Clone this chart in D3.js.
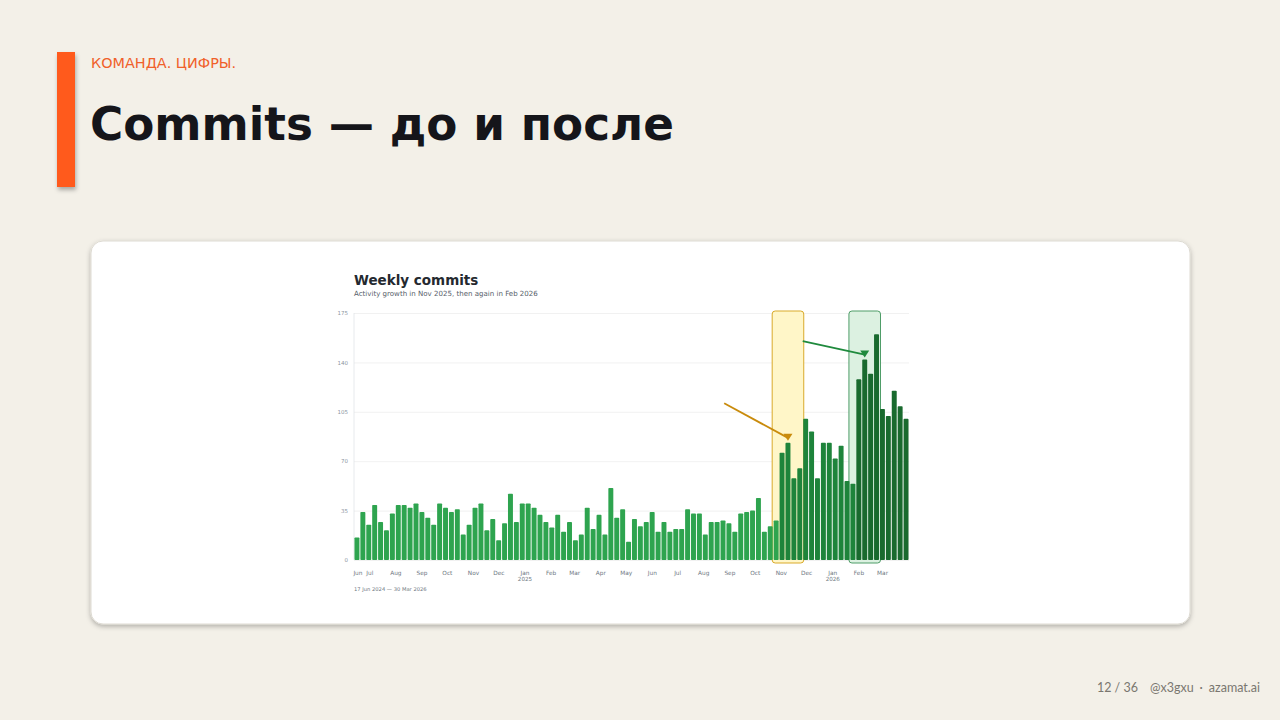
<!DOCTYPE html>
<html>
<head>
<meta charset="utf-8">
<script src="https://cdn.jsdelivr.net/npm/d3@7"></script>
<style>
  html, body { margin: 0; padding: 0; background: #f3f0e8; }
  svg { display: block; }
</style>
</head>
<body>
<svg id="slide" width="1280" height="720"></svg>
<script>
// ---------- data ----------
const startWeek = "2024-06-17";
const commits = [16,34,25,39,27,21,33,39,39,37,40,34,30,25,40,37,34,36,18,25,
  37,40,21,29,14,26,47,27,40,40,37,32,27,23,32,20,27,14,18,37,
  22,32,18,51,30,36,13,29,24,27,34,20,27,20,22,22,36,33,33,18,
  27,27,28,26,20,33,34,35,44,20,24,28,76,83,58,65,100,91,58,83,
  83,72,81,56,54,128,142,132,160,107,102,120,109,100];
const yTicks = [0, 35, 70, 105, 140, 175];
const monthTicks = ["2024-06-17","2024-07-01","2024-08-01","2024-09-01","2024-10-01","2024-11-01","2024-12-01",
  "2025-01-01","2025-02-01","2025-03-01","2025-04-01","2025-05-01","2025-06-01","2025-07-01","2025-08-01",
  "2025-09-01","2025-10-01","2025-11-01","2025-12-01","2026-01-01","2026-02-01","2026-03-01"];
const monthLabels = ["Jun","Jul","Aug","Sep","Oct","Nov","Dec","Jan","Feb","Mar","Apr","May","Jun","Jul","Aug",
  "Sep","Oct","Nov","Dec","Jan","Feb","Mar"];
const yearLabels = {"2025-01-01": "2025", "2026-01-01": "2026"};
const phaseStarts = ["2025-11-01", "2026-02-01"];
const highlights = [
  {from: 71, to: 75, kind: "nov"},
  {from: 84, to: 88, kind: "feb"}
];
const arrows = [
  {kind: "nov", fromIdx: 62.2, fromVal: 111, toIdx: 73, toVal: 83},
  {kind: "feb", fromIdx: 75.5, fromVal: 155, toIdx: 86, toVal: 142}
];

// ---------- styles ----------
const C = {
  bg: "#f3f0e8", accent: "#ff5a1f", title: "#15151a",
  bars: ["#2ea44f", "#1e843b", "#196a2e"],
  hl: { nov: {fill: "#fff6c8", stroke: "#d9aa2a", arrow: "#c98b0c"},
        feb: {fill: "#dcf1e1", stroke: "#4f9d68", arrow: "#1f8a3d"} }
};

const svg = d3.select("#slide");
const defs = svg.append("defs");
const sh = defs.append("filter").attr("id", "shadow").attr("x", "-10%").attr("y", "-10%").attr("width", "120%").attr("height", "130%");
sh.append("feDropShadow").attr("dx", 0).attr("dy", 2).attr("stdDeviation", 2.5).attr("flood-color", "#000").attr("flood-opacity", 0.28);
const sh2 = defs.append("filter").attr("id", "shadow2").attr("x", "-50%").attr("y", "-10%").attr("width", "200%").attr("height", "130%");
sh2.append("feDropShadow").attr("dx", 1).attr("dy", 3).attr("stdDeviation", 2).attr("flood-color", "#000").attr("flood-opacity", 0.3);

svg.append("rect").attr("width", 1280).attr("height", 720).attr("fill", C.bg);

// header
svg.append("rect").attr("x", 57).attr("y", 52).attr("width", 18).attr("height", 135)
  .attr("fill", C.accent).attr("filter", "url(#shadow2)");
svg.append("text").attr("x", 91).attr("y", 67.5).text("КОМАНДА. ЦИФРЫ.")
  .attr("font-family", "DejaVu Sans").attr("font-size", 14.4).attr("fill", "#f0602a");
svg.append("text").attr("x", 90).attr("y", 140).text("Commits — до и после")
  .attr("font-family", "DejaVu Sans").attr("font-weight", "bold").attr("font-size", 45.3).attr("fill", C.title);

// footer
const foot = svg.append("text").attr("x", 1260).attr("y", 692).attr("text-anchor", "end")
  .attr("font-family", "Lato").attr("font-size", 12.5).attr("fill", "#7a7770");
foot.append("tspan").text("12 / 36");
foot.append("tspan").attr("dx", 12).text("@x3gxu");
foot.append("tspan").attr("dx", 6).text("·");
foot.append("tspan").attr("dx", 6).text("azamat.ai");

// card
svg.append("rect").attr("x", 91).attr("y", 241).attr("width", 1099).attr("height", 383).attr("rx", 12)
  .attr("fill", "#fff").attr("stroke", "#dedbd3").attr("stroke-width", 1).attr("filter", "url(#shadow)");

// ---------- chart ----------
const parse = d3.utcParse("%Y-%m-%d");
const start = parse(startWeek);
const weeks = commits.map((v, i) => ({date: d3.utcDay.offset(start, 7 * i), value: v, i}));
const L = 354, R = 909, T = 313, B = 560;

const x = d3.scaleBand().domain(weeks.map(d => d.i)).range([L, R]).paddingInner(0.16).paddingOuter(0.08);
const xt = d3.scaleUtc()
  .domain([d3.utcHour.offset(start, -84), d3.utcHour.offset(weeks[weeks.length - 1].date, 84)])
  .range([L, R]);
const y = d3.scaleLinear().domain([0, 175]).range([B, T]);
const xi = idx => x(0) + x.bandwidth() / 2 + idx * x.step();

const g = svg.append("g");
g.append("text").attr("x", 354).attr("y", 285).text("Weekly commits")
  .attr("font-family", "DejaVu Sans").attr("font-weight", "bold").attr("font-size", 13.5).attr("fill", "#24292f");
g.append("text").attr("x", 354).attr("y", 296).text("Activity growth in Nov 2025, then again in Feb 2026")
  .attr("font-family", "DejaVu Sans").attr("font-size", 7.05).attr("fill", "#57606a");

// y grid + axis
const yAxis = g.append("g").attr("transform", `translate(${L},0)`)
  .call(d3.axisLeft(y).tickValues(yTicks).tickSize(-(R - L)).tickPadding(6));
yAxis.select(".domain").remove();
yAxis.selectAll(".tick line").attr("stroke", "#eeeeee").attr("stroke-width", 0.8);
yAxis.selectAll(".tick text").attr("font-family", "DejaVu Sans").attr("font-size", 5.5).attr("fill", "#8c959f");
g.append("line").attr("x1", L).attr("x2", L).attr("y1", T).attr("y2", B).attr("stroke", "#e1e4e8").attr("stroke-width", 0.8);

// highlight boxes (behind bars)
g.selectAll(".hl").data(highlights).join("rect")
  .attr("x", d => x(d.from) - 1.5)
  .attr("width", d => x(d.to) + x.bandwidth() - x(d.from) + 3)
  .attr("y", y(175) - 2).attr("height", y(0) - y(175) + 5).attr("rx", 3)
  .attr("fill", d => C.hl[d.kind].fill).attr("stroke", d => C.hl[d.kind].stroke).attr("stroke-width", 1);

// bars
const phases = phaseStarts.map(parse);
const barColor = d => C.bars[d3.bisectRight(phases, d.date)];
g.selectAll(".bar").data(weeks).join("rect")
  .attr("x", d => x(d.i)).attr("width", x.bandwidth())
  .attr("y", d => y(d.value)).attr("height", d => y(0) - y(d.value))
  .attr("rx", 0.8).attr("fill", barColor);

// arrows
arrows.forEach(a => {
  const col = C.hl[a.kind].arrow;
  const x1 = xi(a.fromIdx), y1 = y(a.fromVal);
  const x2 = xi(a.toIdx), y2 = y(a.toVal) - 2;
  g.append("line").attr("x1", x1).attr("y1", y1).attr("x2", x2).attr("y2", y2 - 3)
    .attr("stroke", col).attr("stroke-width", 1.8);
  g.append("path").attr("d", `M${x2 - 4.5},${y2 - 7}L${x2 + 4.5},${y2 - 7}L${x2},${y2}Z`).attr("fill", col);
});

// x axis labels
const mt = monthTicks.map((m, k) => ({date: parse(m), label: monthLabels[k], key: m}));
g.selectAll(".mlab").data(mt).join("text")
  .attr("x", d => Math.max(xt(d.date) + 1, L + 1)).attr("y", 574.5).attr("text-anchor", "middle")
  .attr("font-family", "DejaVu Sans").attr("font-size", 5.8).attr("fill", "#6e7781").text(d => d.label);
g.selectAll(".ylab").data(mt.filter(d => yearLabels[d.key])).join("text")
  .attr("x", d => xt(d.date) + 1).attr("y", 581).attr("text-anchor", "middle")
  .attr("font-family", "DejaVu Sans").attr("font-size", 5.6).attr("fill", "#6e7781").text(d => yearLabels[d.key]);
g.append("text").attr("x", 354).attr("y", 591)
  .text(`${d3.utcFormat("%-d %b %Y")(start)} — ${d3.utcFormat("%-d %b %Y")(weeks[weeks.length - 1].date)}`)
  .attr("font-family", "DejaVu Sans").attr("font-size", 5.2).attr("fill", "#6e7781");
</script>
</body>
</html>
